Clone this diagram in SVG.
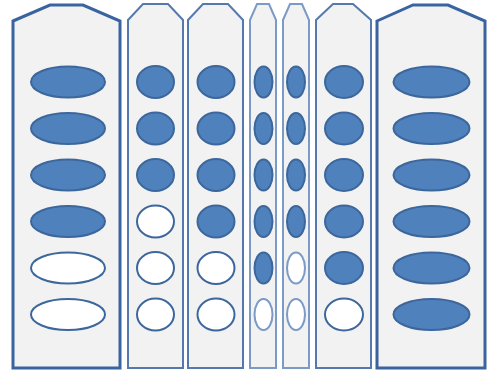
<svg xmlns="http://www.w3.org/2000/svg" width="488" height="374" viewBox="0 0 488 374">
<style>
.col{fill:#F2F2F2;stroke-linejoin:miter}
.wide{stroke:#3A64A0;stroke-width:3}
.mid{stroke:#5679AD;stroke-width:2}
.narrow{stroke:#7C9AC6;stroke-width:2}
.on{fill:#4F81BD;stroke:#3C679C;stroke-width:2}
.off{fill:#FFFFFF;stroke:#3C679C;stroke-width:2}
</style>
<rect width="488" height="374" fill="#FFFFFF"/>
<g id="col1">
<polygon class="col wide" points="13,21 50,5 83,5 120,21 120,368 13,368"/>
<ellipse class="on" cx="68" cy="82" rx="37" ry="15.5"/>
<ellipse class="on" cx="68" cy="128.5" rx="37" ry="15.5"/>
<ellipse class="on" cx="68" cy="175" rx="37" ry="15.5"/>
<ellipse class="on" cx="68" cy="221.5" rx="37" ry="15.5"/>
<ellipse class="off" cx="68" cy="268" rx="37" ry="15.5"/>
<ellipse class="off" cx="68" cy="314.5" rx="37" ry="15.5"/>
</g>
<g id="col2">
<polygon class="col mid" points="128,20 143,4 168,4 183,20 183,368 128,368"/>
<ellipse class="on" cx="155.5" cy="82" rx="18.5" ry="16"/>
<ellipse class="on" cx="155.5" cy="128.5" rx="18.5" ry="16"/>
<ellipse class="on" cx="155.5" cy="175" rx="18.5" ry="16"/>
<ellipse class="off" cx="155.5" cy="221.5" rx="18.5" ry="16"/>
<ellipse class="off" cx="155.5" cy="268" rx="18.5" ry="16"/>
<ellipse class="off" cx="155.5" cy="314.5" rx="18.5" ry="16"/>
</g>
<g id="col3">
<polygon class="col mid" points="188,20 203,4 228,4 243,20 243,368 188,368"/>
<ellipse class="on" cx="216" cy="82" rx="18.5" ry="16"/>
<ellipse class="on" cx="216" cy="128.5" rx="18.5" ry="16"/>
<ellipse class="on" cx="216" cy="175" rx="18.5" ry="16"/>
<ellipse class="on" cx="216" cy="221.5" rx="18.5" ry="16"/>
<ellipse class="off" cx="216" cy="268" rx="18.5" ry="16"/>
<ellipse class="off" cx="216" cy="314.5" rx="18.5" ry="16"/>
</g>
<g id="col4">
<polygon class="col narrow" points="250,20 257,4 269,4 276,20 276,368 250,368"/>
<ellipse class="on" cx="263.5" cy="82" rx="9" ry="15.5"/>
<ellipse class="on" cx="263.5" cy="128.5" rx="9" ry="15.5"/>
<ellipse class="on" cx="263.5" cy="175" rx="9" ry="15.5"/>
<ellipse class="on" cx="263.5" cy="221.5" rx="9" ry="15.5"/>
<ellipse class="on" cx="263.5" cy="268" rx="9" ry="15.5"/>
<ellipse class="off" cx="263.5" cy="314.5" rx="9" ry="15.5" style="stroke:#7C9AC6"/>
</g>
<g id="col5">
<polygon class="col narrow" points="283,20 290,4 302,4 309,20 309,368 283,368"/>
<ellipse class="on" cx="296" cy="82" rx="9" ry="15.5"/>
<ellipse class="on" cx="296" cy="128.5" rx="9" ry="15.5"/>
<ellipse class="on" cx="296" cy="175" rx="9" ry="15.5"/>
<ellipse class="on" cx="296" cy="221.5" rx="9" ry="15.5"/>
<ellipse class="off" cx="296" cy="268" rx="9" ry="15.5" style="stroke:#7C9AC6"/>
<ellipse class="off" cx="296" cy="314.5" rx="9" ry="15.5" style="stroke:#7C9AC6"/>
</g>
<g id="col6">
<polygon class="col mid" points="316,20 333,4 353,4 371,20 371,368 316,368"/>
<ellipse class="on" cx="344" cy="82" rx="19" ry="16"/>
<ellipse class="on" cx="344" cy="128.5" rx="19" ry="16"/>
<ellipse class="on" cx="344" cy="175" rx="19" ry="16"/>
<ellipse class="on" cx="344" cy="221.5" rx="19" ry="16"/>
<ellipse class="on" cx="344" cy="268" rx="19" ry="16"/>
<ellipse class="off" cx="344" cy="314.5" rx="19" ry="16"/>
</g>
<g id="col7">
<polygon class="col wide" points="377,21 413,5 448,5 485,21 485,368 377,368"/>
<ellipse class="on" cx="431.5" cy="82" rx="38" ry="15.5"/>
<ellipse class="on" cx="431.5" cy="128.5" rx="38" ry="15.5"/>
<ellipse class="on" cx="431.5" cy="175" rx="38" ry="15.5"/>
<ellipse class="on" cx="431.5" cy="221.5" rx="38" ry="15.5"/>
<ellipse class="on" cx="431.5" cy="268" rx="38" ry="15.5"/>
<ellipse class="on" cx="431.5" cy="314.5" rx="38" ry="15.5"/>
</g>
<g id="connectors"/>
</svg>
